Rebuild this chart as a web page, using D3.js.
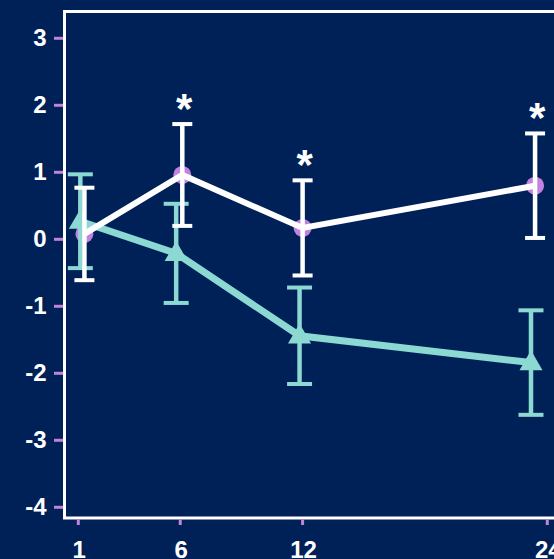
<!DOCTYPE html>
<html>
<head>
<meta charset="utf-8">
<script src="https://cdn.jsdelivr.net/npm/d3@7"></script>
<style>
  html, body { margin: 0; padding: 0; background: #002157; overflow: hidden; }
  svg { display: block; }
</style>
</head>
<body>
<svg id="chart" width="554" height="559"></svg>
<script>
// Time points (months) and y-axis ticks
const xTicks = [1, 6, 12, 24];
const yTicks = [3, 2, 1, 0, -1, -2, -3, -4];

// Series A (white line, lilac circles): x positions, means, error half-widths, significance
const seriesAX = [1.3, 6.1, 12.0, 23.4];
const seriesAMean = [0.08, 0.96, 0.17, 0.80];
const seriesAErr = [0.69, 0.76, 0.71, 0.78];
const seriesASig = [false, true, true, true];

// Series B (teal line, triangles)
const seriesBX = [1.1, 5.8, 11.85, 23.2];
const seriesBMean = [0.27, -0.21, -1.44, -1.84];
const seriesBErr = [0.70, 0.74, 0.72, 0.78];

const colors = { bg: "#002157", white: "#ffffff", teal: "#8cd8d2", lilac: "#c282e0" };

const svg = d3.select("#chart");
const x = d3.scaleLinear().domain([1, 24]).range([78.3, 547.3]);
const y = d3.scaleLinear().domain([-4, 3]).range([507.3, 38.3]);

const frame = { left: 64.5, top: 11.5, bottom: 518 };

svg.append("rect").attr("width", 554).attr("height", 559).attr("fill", colors.bg);

// plot frame (right side runs off the canvas)
svg.append("path")
  .attr("d", `M600,${frame.top}H${frame.left}V${frame.bottom}H600`)
  .attr("fill", "none").attr("stroke", colors.white).attr("stroke-width", 3);

// y axis ticks and labels
const yAxis = svg.append("g");
yAxis.selectAll("line").data(yTicks).join("line")
  .attr("x1", 54).attr("x2", 63)
  .attr("y1", d => y(d)).attr("y2", d => y(d))
  .attr("stroke", colors.lilac).attr("stroke-width", 3);
yAxis.selectAll("text").data(yTicks).join("text")
  .attr("x", 46.5).attr("y", d => y(d) + 8)
  .attr("text-anchor", "end")
  .attr("font-family", "Liberation Sans, Arial, sans-serif")
  .attr("font-weight", "bold").attr("font-size", 24)
  .attr("fill", colors.white)
  .text(d => d);

// x axis ticks and labels (bottom row runs to the canvas edge)
const xAxis = svg.append("g");
xAxis.selectAll("line").data(xTicks).join("line")
  .attr("x1", d => x(d)).attr("x2", d => x(d))
  .attr("y1", 519.5).attr("y2", 525)
  .attr("stroke", colors.lilac).attr("stroke-width", 3);
xAxis.selectAll("text").data(xTicks).join("text")
  .attr("x", d => x(d) + 1).attr("y", 557.5)
  .attr("text-anchor", "middle")
  .attr("font-family", "Liberation Sans, Arial, sans-serif")
  .attr("font-weight", "bold").attr("font-size", 24)
  .attr("fill", colors.white)
  .text(d => d);

const dataA = seriesAX.map((xv, i) => ({ x: xv, m: seriesAMean[i], e: seriesAErr[i], sig: seriesASig[i] }));
const dataB = seriesBX.map((xv, i) => ({ x: xv, m: seriesBMean[i], e: seriesBErr[i] }));

const line = d3.line().x(d => x(d.x)).y(d => y(d.m));

function errorBars(g, data, color, capW) {
  const eb = g.append("g").attr("stroke", color);
  eb.selectAll(".v").data(data).join("line")
    .attr("x1", d => x(d.x)).attr("x2", d => x(d.x))
    .attr("y1", d => y(d.m + d.e)).attr("y2", d => y(d.m - d.e))
    .attr("stroke-width", 4.5);
  eb.selectAll(".t").data(data).join("line")
    .attr("x1", d => x(d.x) - capW / 2).attr("x2", d => x(d.x) + capW / 2)
    .attr("y1", d => y(d.m + d.e)).attr("y2", d => y(d.m + d.e))
    .attr("stroke-width", 4);
  eb.selectAll(".b").data(data).join("line")
    .attr("x1", d => x(d.x) - capW / 2).attr("x2", d => x(d.x) + capW / 2)
    .attr("y1", d => y(d.m - d.e)).attr("y2", d => y(d.m - d.e))
    .attr("stroke-width", 4);
}

const plot = svg.append("g");

// lilac circle markers of series A sit beneath the lines
plot.selectAll(".dotA").data(dataA).join("circle")
  .attr("cx", d => x(d.x)).attr("cy", d => y(d.m)).attr("r", 9)
  .attr("fill", colors.lilac);

// series B: line, error bars, triangles
plot.append("path").datum(dataB).attr("d", line)
  .attr("fill", "none").attr("stroke", colors.teal).attr("stroke-width", 7)
  .attr("stroke-linejoin", "miter");
errorBars(plot, dataB, colors.teal, 25);
const tri = d3.symbol().type(d3.symbolTriangle).size(230);
plot.selectAll(".triB").data(dataB).join("path")
  .attr("d", tri)
  .attr("transform", d => `translate(${x(d.x)},${y(d.m) + 1})`)
  .attr("fill", colors.teal);

// series A: line and error bars
plot.append("path").datum(dataA).attr("d", line)
  .attr("fill", "none").attr("stroke", colors.white).attr("stroke-width", 6)
  .attr("stroke-linejoin", "miter");
errorBars(plot, dataA, colors.white, 20);

// significance markers
plot.selectAll(".sig").data(dataA.filter(d => d.sig)).join("text")
  .attr("x", d => x(d.x) + 2).attr("y", d => y(d.m + d.e) - 1)
  .attr("text-anchor", "middle")
  .attr("font-family", "Liberation Sans, Arial, sans-serif")
  .attr("font-weight", "bold").attr("font-size", 42)
  .attr("fill", colors.white)
  .text("*");
</script>
</body>
</html>
